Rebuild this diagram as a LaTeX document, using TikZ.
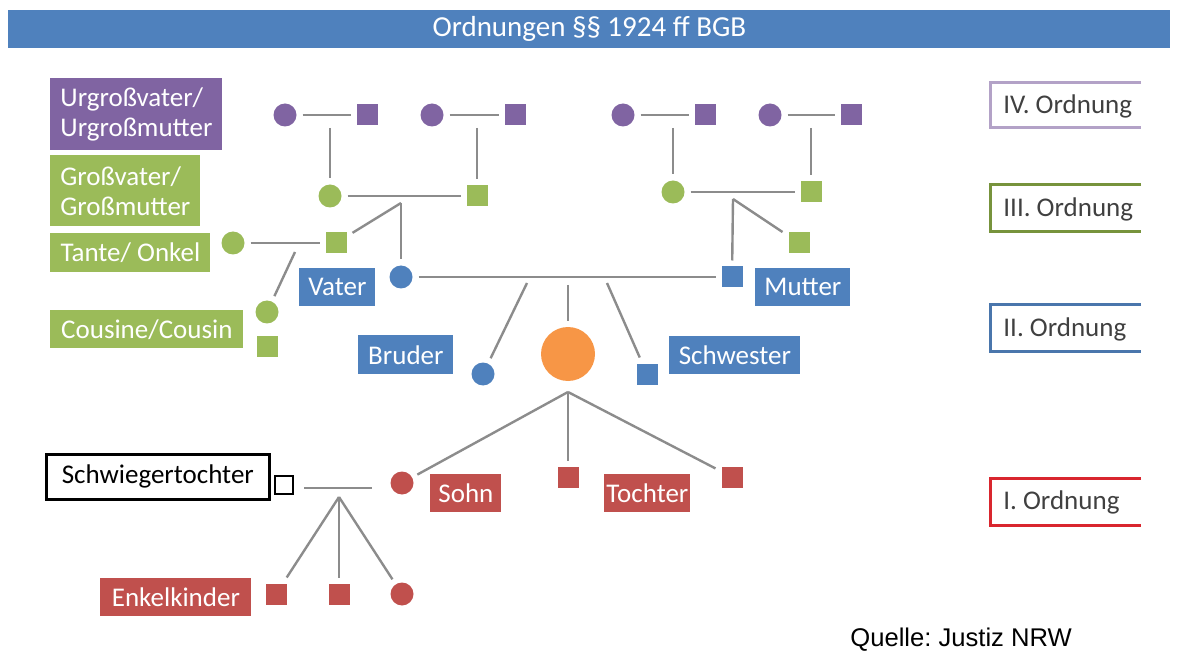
\documentclass[tikz,border=0pt]{standalone}
\usepackage{fontspec}
\setmainfont{Carlito}
\newfontfamily\quellefont{Liberation Sans}

\definecolor{barblue}{HTML}{4F81BD}
\definecolor{urpurple}{HTML}{8064A2}
\definecolor{grgreen}{HTML}{9BBB59}
\definecolor{elblue}{HTML}{4F81BD}
\definecolor{kired}{HTML}{C0504D}
\definecolor{egoorange}{HTML}{F79646}
\definecolor{linkgray}{HTML}{8C8C8C}
\definecolor{ordpurple}{HTML}{B3A2C7}
\definecolor{ordgreen}{HTML}{77933C}
\definecolor{ordblue}{HTML}{4A76AC}
\definecolor{ordred}{HTML}{D9262E}
\definecolor{ordtext}{HTML}{404040}

\tikzset{
	link/.style={draw=linkgray, line width=1.2pt},
	circ/.style={circle, fill=#1, minimum size=11.5pt, inner sep=0pt, outer sep=3pt},
	sq/.style={rectangle, fill=#1, minimum size=10.5pt, inner sep=0pt, outer sep=3pt},
	tag/.style={fill=#1, text=white, anchor=north west, inner sep=0pt, align=left, font=\fontsize{13.5}{15}\selectfont},
	ordtag/.style={anchor=west, text=ordtext, inner sep=0pt, font=\fontsize{13.5}{15}\selectfont},
	ordline/.style={draw=#1, line width=1.5pt},
}

\begin{document}
\begin{tikzpicture}[x=0.5pt, y=-0.5pt]
		\useasboundingbox (0,0) rectangle (1189,668);

		\node[fill=barblue, minimum width=581pt, minimum height=19pt, inner sep=0pt, anchor=north west, text=white, font=\fontsize{14.5}{17}\selectfont] (titel) at (8,10) {Ordnungen §§ 1924 ff BGB};

		\node[tag=urpurple, minimum width=86pt, minimum height=36pt] (urgross) at (50,78) {Urgroßvater/\\Urgroßmutter};
		\node[tag=grgreen, minimum width=75pt, minimum height=35.5pt] (gross) at (50,155) {Großvater/\\Großmutter};
		\node[tag=grgreen, minimum width=80pt, minimum height=19.5pt] (tante) at (50,233) {Tante/ Onkel};
		\node[tag=grgreen, minimum width=96.5pt, minimum height=19pt] (cousin) at (50,310) {Cousine/Cousin};
		\node[tag=elblue, minimum width=38pt, minimum height=19pt] (vater) at (299,268) {Vater};
		\node[tag=elblue, minimum width=47.5pt, minimum height=19.5pt] (bruder) at (358,335) {Bruder};
		\node[tag=elblue, minimum width=47.5pt, minimum height=19pt] (mutter) at (755,268) {Mutter};
		\node[tag=elblue, minimum width=65.5pt, minimum height=19pt] (schwester) at (669,336) {Schwester};
		\node[tag=kired, minimum width=35.5pt, minimum height=19pt] (sohn) at (430,474) {Sohn};
		\node[tag=kired, minimum width=43pt, minimum height=19pt] (tochter) at (604,474) {Tochter};
		\node[tag=kired, minimum width=75.5pt, minimum height=19pt] (enkel) at (100,578) {Enkelkinder};
		\node[tag=white, text=black, draw=black, line width=1.3pt, minimum width=111.5pt, minimum height=22.5pt] (schwieger) at (45,453) {Schwiegertochter};

		\node[circ=urpurple] (u1) at (285,115) {};
		\node[sq=urpurple] (u2) at (367,115) {};
		\node[circ=urpurple] (u3) at (432,115) {};
		\node[sq=urpurple] (u4) at (515,115) {};
		\node[circ=urpurple] (u5) at (623,115) {};
		\node[sq=urpurple] (u6) at (705,115) {};
		\node[circ=urpurple] (u7) at (770,115) {};
		\node[sq=urpurple] (u8) at (851,115) {};
		\draw[link] (u1) -- (u2);
		\draw[link] (u3) -- (u4);
		\draw[link] (u5) -- (u6);
		\draw[link] (u7) -- (u8);

		\node[circ=grgreen] (g1) at (330,196) {};
		\node[sq=grgreen] (g2) at (477,196) {};
		\node[circ=grgreen] (g3) at (673,192) {};
		\node[sq=grgreen] (g4) at (811,192) {};
		\node[circ=grgreen] (t1) at (233,243) {};
		\node[sq=grgreen] (o1) at (336,243) {};
		\node[sq=grgreen] (o2) at (799,243) {};
		\node[circ=grgreen] (c1) at (267,312) {};
		\node[sq=grgreen] (c2) at (267,347) {};

		\coordinate (ju1) at (330,128);
		\coordinate (ju2) at (477,128);
		\coordinate (ju3) at (673,128);
		\coordinate (ju4) at (811,128);
		\draw[link] (ju1) -- (g1);
		\draw[link] (ju2) -- (g2);
		\draw[link] (ju3) -- (g3);
		\draw[link] (ju4) -- (g4);
		\draw[link] (g1) -- (g2);
		\draw[link] (g3) -- (g4);
		\draw[link] (t1) -- (o1);

		\node[circ=elblue] (v) at (401,277) {};
		\node[sq=elblue] (m) at (732,277) {};
		\node[circ=elblue] (b) at (483,374) {};
		\node[sq=elblue] (s) at (647,374) {};
		\node[circle, fill=egoorange, minimum size=27pt, inner sep=0pt, outer sep=3pt] (ego) at (568,354) {};

		\coordinate (jg1) at (401,203);
		\coordinate (jg2) at (733,199);
		\coordinate (jt) at (295,252);
		\draw[link] (jg1) -- (v);
		\draw[link] (jg1) -- (o1);
		\draw[link] (jg2) -- (m);
		\draw[link] (jg2) -- (o2);
		\draw[link] (jt) -- (c1);

		\coordinate (jb) at (527,283);
		\coordinate (je) at (568,285);
		\coordinate (js) at (607,283);
		\draw[link] (v) -- (m);
		\draw[link] (jb) -- (b);
		\draw[link] (je) -- (ego);
		\draw[link] (js) -- (s);

		\node[circ=kired] (so) at (402,483) {};
		\node[sq=kired] (k2) at (568,477) {};
		\node[sq=kired] (k3) at (732,477) {};
		\node[sq=white, draw=black, line width=1.2pt, minimum size=9pt] (st) at (284,485) {};
		\node[sq=kired] (n1) at (276,594) {};
		\node[sq=kired] (n2) at (339,594) {};
		\node[circ=kired] (n3) at (402,594) {};

		\coordinate (jk) at (568,392);
		\coordinate (jn) at (339,497);
		\draw[link] (jk) -- (so);
		\draw[link] (jk) -- (k2);
		\draw[link] (jk) -- (k3);
		\draw[link] (st.east) ++(5,3) -- ++(68,0);
		\draw[link] (jn) -- (n1);
		\draw[link] (jn) -- (n2);
		\draw[link] (jn) -- (n3);

		\draw[ordline=ordpurple] (1141,83) -- (990,83) -- (990,128) -- (1141,128);
		\draw[ordline=ordgreen] (1141,185) -- (990,185) -- (990,232) -- (1141,232);
		\draw[ordline=ordblue] (1141,305) -- (990,305) -- (990,352) -- (1141,352);
		\draw[ordline=ordred] (1141,478) -- (990,478) -- (990,525) -- (1141,525);
		\node[ordtag] (ord4) at (1003,106) {IV. Ordnung};
		\node[ordtag] (ord3) at (1003,209) {III. Ordnung};
		\node[ordtag] (ord2) at (1003,329) {II. Ordnung};
		\node[ordtag] (ord1) at (1003,502) {I. Ordnung};

		\node[anchor=west, inner sep=0pt, font=\quellefont\fontsize{12.8}{15}\selectfont] (quelle) at (850,640) {Quelle:\ Justiz NRW};
	\end{tikzpicture}
\end{document}
